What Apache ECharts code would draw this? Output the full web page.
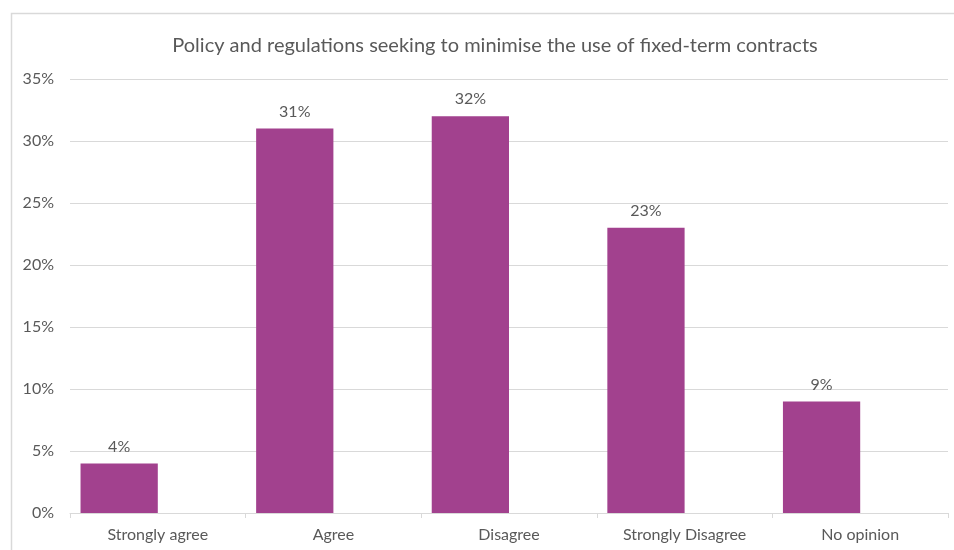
<!DOCTYPE html>
<html>
<head>
<meta charset="utf-8">
<script src="https://cdn.jsdelivr.net/npm/echarts@6/dist/echarts.min.js"></script>
<style>
  html, body { margin: 0; padding: 0; background: #ffffff; }
  #chart { width: 954px; height: 550px; }
</style>
</head>
<body>
<div id="chart"></div>
<script>
const categories = ['Strongly agree', 'Agree', 'Disagree', 'Strongly Disagree', 'No opinion']
const shares = [4, 31, 32, 23, 9]
const yTicks = [0, 5, 10, 15, 20, 25, 30, 35]

const FONT = 'Lato, "Open Sans", sans-serif'
const TEXT = '#595959'

const chart = echarts.init(document.getElementById('chart'))

chart.setOption({
  backgroundColor: '#ffffff',
  animation: false,
  textStyle: { fontFamily: FONT, color: TEXT },
  graphic: [
    {
      type: 'rect',
      z: -10,
      shape: { x: 11.5, y: 13.5, width: 1000, height: 600 },
      style: { fill: 'none', stroke: '#d9d9d9', lineWidth: 1.5 },
    },
  ],
  title: {
    text: 'Policy and regulations seeking to minimise the use of fixed-term contracts',
    left: 490,
    textAlign: 'center',
    top: 31,
    textStyle: { fontFamily: FONT, fontSize: 20, fontWeight: 'normal', color: TEXT },
  },
  grid: { left: 70, right: 6, top: 79, bottom: 37 },
  xAxis: {
    type: 'category',
    data: categories,
    axisLine: { lineStyle: { color: '#d9d9d9', width: 1 } },
    axisTick: { show: true, length: 5, lineStyle: { color: '#d9d9d9' } },
    axisLabel: { color: TEXT, fontSize: 16, margin: 14, fontFamily: FONT },
  },
  yAxis: {
    type: 'value',
    min: yTicks[0],
    max: yTicks[yTicks.length - 1],
    interval: 5,
    axisLine: { show: false },
    axisTick: { show: false },
    splitLine: { lineStyle: { color: '#d9d9d9', width: 1 } },
    axisLabel: { color: TEXT, fontSize: 16, margin: 16, fontFamily: FONT, formatter: '{value}%' },
  },
  series: [
    {
      type: 'bar',
      data: shares,
      barGap: '0%',
      barCategoryGap: '12%',
      itemStyle: { color: '#A2418E' },
      label: {
        show: true,
        position: 'top',
        distance: 9,
        formatter: '{c}%',
        color: TEXT,
        fontSize: 16,
        fontFamily: FONT,
      },
    },
    {
      // empty companion series keeps the Excel-style left offset of the bars
      type: 'bar',
      data: categories.map(() => null),
      barGap: '0%',
      barCategoryGap: '12%',
    },
  ],
})
</script>
</body>
</html>
